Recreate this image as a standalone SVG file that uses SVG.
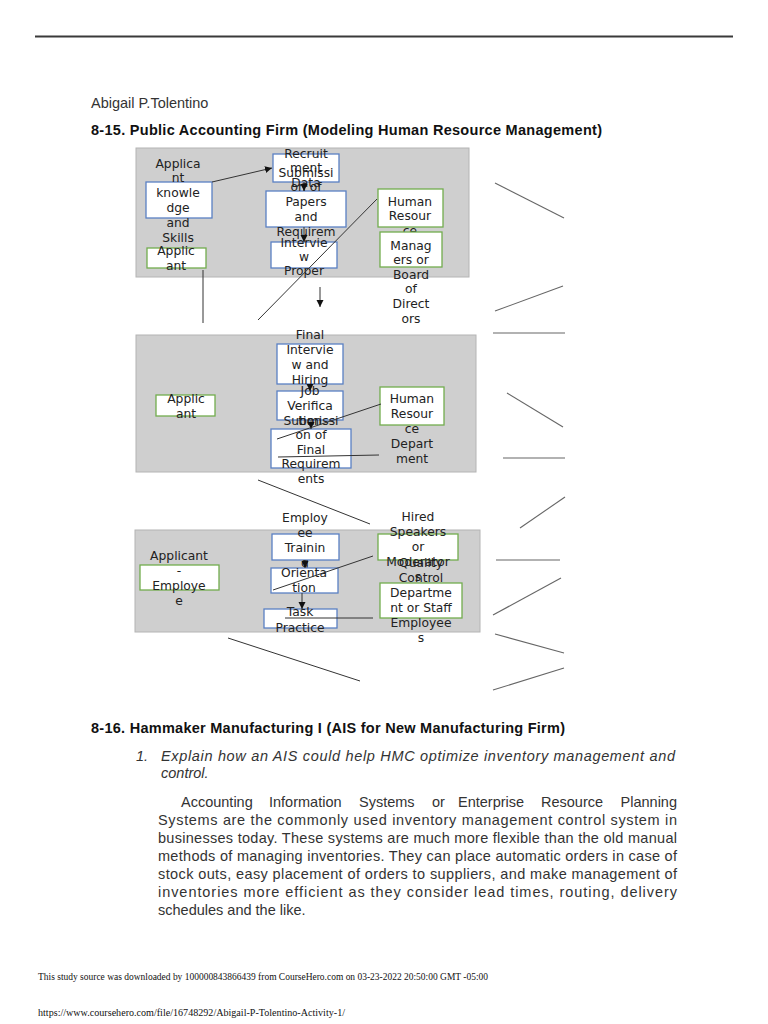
<svg xmlns="http://www.w3.org/2000/svg" width="768" height="1024" viewBox="0 0 768 1024">
<defs>
<style>
.panel{fill:#cfcfcf;stroke:#b4b4b4;stroke-width:1}
.blue{fill:#fff;stroke:#5a80c4;stroke-width:1.3}
.green{fill:#fff;stroke:#72ad4e;stroke-width:1.3}
.nt{font-family:"DejaVu Sans",sans-serif;font-size:12.3px;fill:#222;text-anchor:middle}
.ln{stroke:#333;stroke-width:1;fill:none}
.rl{stroke:#666;stroke-width:1.1;fill:none}
.body{font-family:"Liberation Sans",Arial,sans-serif;font-size:14.5px;fill:#333}
.h{font-family:"Liberation Sans",Arial,sans-serif;font-size:14.5px;font-weight:bold;fill:#111}
.foot{font-family:"Liberation Serif","Times New Roman",serif;font-size:10.5px;fill:#111}
</style>
<marker id="ah" markerWidth="8" markerHeight="8" refX="7" refY="4" orient="auto" markerUnits="userSpaceOnUse">
<path d="M0,0.5 L7,4 L0,7.5 Z" fill="#111"/>
</marker>
</defs>
<rect width="768" height="1024" fill="#fff"/>
<line x1="35" y1="36.5" x2="733" y2="36.5" stroke="#3a3a3a" stroke-width="2"/>
<text class="body" x="91" y="108">Abigail P.Tolentino</text>
<text class="h" x="91" y="135" textLength="511" lengthAdjust="spacing">8-15. Public Accounting Firm (Modeling Human Resource Management)</text>

<g id="panels">
<rect class="panel" x="136" y="148" width="333" height="129"/>
<rect class="panel" x="136" y="335" width="340" height="137"/>
<rect class="panel" x="135" y="530" width="345" height="102"/>
</g>

<g id="n-knowledge"><rect class="blue" x="146" y="182" width="66" height="36"/>
<text class="nt" x="178" y="167.5"><tspan x="178">Applica</tspan><tspan x="178" dy="14.8">nt</tspan><tspan x="178" dy="14.8">knowle</tspan><tspan x="178" dy="14.8">dge</tspan><tspan x="178" dy="14.8">and</tspan><tspan x="178" dy="14.8">Skills</tspan></text></g>
<g id="n-applicant1"><rect class="green" x="147" y="248" width="59" height="20"/>
<text class="nt" x="176" y="254.5"><tspan x="176">Applic</tspan><tspan x="176" dy="15.5">ant</tspan></text></g>
<g id="n-recruit"><rect class="blue" x="273" y="154" width="66" height="28"/>
<text class="nt" x="306" y="157.5"><tspan x="306">Recruit</tspan><tspan x="306" dy="14.5">ment</tspan><tspan x="306" dy="14.5">Data</tspan></text></g>
<g id="n-submission1"><rect class="blue" x="266" y="191" width="80" height="36"/>
<text class="nt" x="306" y="176.5"><tspan x="306">Submissi</tspan><tspan x="306" dy="14.8">on of</tspan><tspan x="306" dy="14.8">Papers</tspan><tspan x="306" dy="14.8">and</tspan><tspan x="306" dy="14.8">Requirem</tspan><tspan x="306" dy="14.8">ents</tspan></text></g>
<g id="n-interview"><rect class="blue" x="271" y="242" width="66" height="26"/>
<text class="nt" x="304" y="246.5"><tspan x="304">Intervie</tspan><tspan x="304" dy="14">w</tspan><tspan x="304" dy="14">Proper</tspan></text></g>
<g id="n-hr1"><rect class="green" x="378" y="189" width="65" height="38"/>
<text class="nt" x="410" y="205.5"><tspan x="410">Human</tspan><tspan x="410" dy="14.5">Resour</tspan><tspan x="410" dy="14.5">ce</tspan></text></g>
<g id="n-managers"><rect class="green" x="380" y="232" width="62" height="35"/>
<text class="nt" x="411" y="249.5"><tspan x="411">Manag</tspan><tspan x="411" dy="14.6">ers or</tspan><tspan x="411" dy="14.6">Board</tspan><tspan x="411" dy="14.6">of</tspan><tspan x="411" dy="14.6">Direct</tspan><tspan x="411" dy="14.6">ors</tspan></text></g>

<g id="n-final-interview"><rect class="blue" x="277" y="344" width="66" height="40"/>
<text class="nt" x="310" y="338.5"><tspan x="310">Final</tspan><tspan x="310" dy="15">Intervie</tspan><tspan x="310" dy="15">w and</tspan><tspan x="310" dy="15">Hiring</tspan></text></g>
<g id="n-job"><rect class="blue" x="277" y="391" width="66" height="29"/>
<text class="nt" x="310" y="394.5"><tspan x="310">Job</tspan><tspan x="310" dy="15">Verifica</tspan><tspan x="310" dy="15">tion</tspan></text></g>
<g id="n-submission2"><rect class="blue" x="271" y="429" width="80" height="39"/>
<text class="nt" x="311" y="424.5"><tspan x="311">Submissi</tspan><tspan x="311" dy="14.5">on of</tspan><tspan x="311" dy="14.5">Final</tspan><tspan x="311" dy="14.5">Requirem</tspan><tspan x="311" dy="14.5">ents</tspan></text></g>
<g id="n-applicant2"><rect class="green" x="156" y="395" width="59" height="21"/>
<text class="nt" x="186" y="402.5"><tspan x="186">Applic</tspan><tspan x="186" dy="15">ant</tspan></text></g>
<g id="n-hr-dept"><rect class="green" x="380" y="387" width="64" height="38"/>
<text class="nt" x="412" y="402.5"><tspan x="412">Human</tspan><tspan x="412" dy="15">Resour</tspan><tspan x="412" dy="15">ce</tspan><tspan x="412" dy="15">Depart</tspan><tspan x="412" dy="15">ment</tspan></text></g>

<g id="n-training"><rect class="blue" x="272" y="534" width="67" height="26"/>
<text class="nt" x="305" y="521.5"><tspan x="305">Employ</tspan><tspan x="305" dy="15">ee</tspan><tspan x="305" dy="15">Trainin</tspan><tspan x="305" dy="15">g</tspan></text></g>
<g id="n-orientation"><rect class="blue" x="271" y="568" width="67" height="25"/>
<text class="nt" x="304" y="576.5"><tspan x="304">Orienta</tspan><tspan x="304" dy="15">tion</tspan></text></g>
<g id="n-task"><rect class="blue" x="264" y="609" width="73" height="19"/>
<text class="nt" x="300" y="615.5"><tspan x="300">Task</tspan><tspan x="300" dy="16">Practice</tspan></text></g>
<g id="n-applicant-employee"><rect class="green" x="140" y="565" width="79" height="25"/>
<text class="nt" x="179" y="559.5"><tspan x="179">Applicant</tspan><tspan x="179" dy="15.3">-</tspan><tspan x="179" dy="15.3">Employe</tspan><tspan x="179" dy="15.3">e</tspan></text></g>
<g id="n-hired"><rect class="green" x="378" y="534" width="80" height="26"/>
<text class="nt" x="418" y="520.5"><tspan x="418">Hired</tspan><tspan x="418" dy="15">Speakers</tspan><tspan x="418" dy="15">or</tspan><tspan x="418" dy="15">Moderator</tspan><tspan x="418" dy="15">s</tspan></text></g>
<g id="n-quality"><rect class="green" x="380" y="583" width="82" height="35"/>
<text class="nt" x="421" y="566.5"><tspan x="421">Quality</tspan><tspan x="421" dy="15">Control</tspan><tspan x="421" dy="15">Departme</tspan><tspan x="421" dy="15">nt or Staff</tspan><tspan x="421" dy="15">Employee</tspan><tspan x="421" dy="15">s</tspan></text></g>

<g id="connectors">
<line class="ln" x1="212" y1="182" x2="272" y2="168" marker-end="url(#ah)"/>
<line class="ln" x1="304" y1="182" x2="304" y2="191" marker-end="url(#ah)"/>
<line class="ln" x1="304" y1="227" x2="304" y2="242" marker-end="url(#ah)"/>
<line class="ln" x1="203" y1="270" x2="203" y2="323"/>
<line class="ln" x1="377" y1="199" x2="258" y2="320"/>
<line class="ln" x1="320" y1="287" x2="320" y2="307" marker-end="url(#ah)"/>
<line class="ln" x1="310" y1="384" x2="310" y2="391" marker-end="url(#ah)"/>
<line class="ln" x1="311" y1="420" x2="311" y2="429" marker-end="url(#ah)"/>
<line class="ln" x1="381" y1="404" x2="277" y2="439"/>
<line class="ln" x1="379" y1="455" x2="278" y2="457"/>
<line class="ln" x1="258" y1="480" x2="370" y2="524"/>
<line class="ln" x1="305" y1="560" x2="305" y2="568" marker-end="url(#ah)"/>
<line class="ln" x1="302" y1="593" x2="302" y2="609" marker-end="url(#ah)"/>
<line class="ln" x1="373" y1="556" x2="273" y2="590"/>
<line class="ln" x1="373" y1="618" x2="285" y2="618"/>
<line class="ln" x1="228" y1="638" x2="360" y2="681"/>
<line class="rl" x1="495" y1="183" x2="564" y2="218"/>
<line class="rl" x1="495" y1="311" x2="563" y2="286"/>
<line class="rl" x1="493" y1="333" x2="565" y2="333"/>
<line class="rl" x1="507" y1="393" x2="563" y2="427"/>
<line class="rl" x1="503" y1="458" x2="565" y2="458"/>
<line class="rl" x1="520" y1="528" x2="565" y2="497"/>
<line class="rl" x1="496" y1="560" x2="560" y2="560"/>
<line class="rl" x1="493" y1="615" x2="561" y2="578"/>
<line class="rl" x1="495" y1="634" x2="564" y2="653"/>
<line class="rl" x1="493" y1="690" x2="564" y2="668"/>
</g>

<text class="h" x="91" y="733" textLength="474" lengthAdjust="spacing">8-16. Hammaker Manufacturing I (AIS for New Manufacturing Firm)</text>
<text class="body" x="136" y="761" font-style="italic">1.</text>
<text class="body" x="161" y="761" font-style="italic" textLength="514" lengthAdjust="spacing">Explain how an AIS could help HMC optimize inventory management and</text>
<text class="body" x="161" y="778" font-style="italic">control.</text>
<g class="body">
<text x="181" y="807">Accounting</text>
<text x="269" y="807">Information</text>
<text x="359" y="807">Systems</text>
<text x="432" y="807">or</text>
<text x="458" y="807">Enterprise</text>
<text x="541" y="807">Resource</text>
<text x="677" y="807" text-anchor="end">Planning</text>
<text x="158" y="825" textLength="519" lengthAdjust="spacing">Systems are the commonly used inventory management control system in</text>
<text x="158" y="843" textLength="519" lengthAdjust="spacing">businesses today. These systems are much more flexible than the old manual</text>
<text x="158" y="861" textLength="519" lengthAdjust="spacing">methods of managing inventories. They can place automatic orders in case of</text>
<text x="158" y="879" textLength="519" lengthAdjust="spacing">stock outs, easy placement of orders to suppliers, and make management of</text>
<text x="158" y="897" textLength="519" lengthAdjust="spacing">inventories more efficient as they consider lead times, routing, delivery</text>
<text x="158" y="915">schedules and the like.</text>
</g>
<text class="foot" x="38" y="980" textLength="450" lengthAdjust="spacingAndGlyphs">This study source was downloaded by 100000843866439 from CourseHero.com on 03-23-2022 20:50:00 GMT -05:00</text>
<text class="foot" x="38" y="1016" textLength="307" lengthAdjust="spacingAndGlyphs">https://www.coursehero.com/file/16748292/Abigail-P-Tolentino-Activity-1/</text>
</svg>
